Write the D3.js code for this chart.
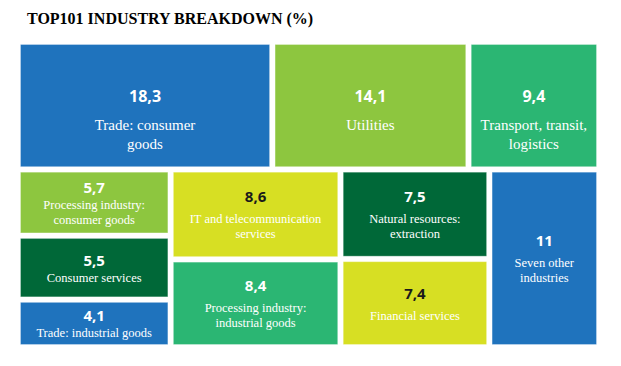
<!DOCTYPE html>
<meta charset="utf-8">
<style>
    body { margin: 0; background: #fff; }
    .value { font-family: "Open Sans", sans-serif; font-weight: bold; text-anchor: middle; }
    .label, .title { font-family: "Liberation Serif", Tinos, "Times New Roman", Times, "DejaVu Serif", serif; }
    .label { fill: #fff; text-anchor: middle; }
    .title { font-weight: bold; font-size: 16px; }
</style>
<body>
<script src="https://d3js.org/d3.v7.min.js"></script>
<script>

    var outerWidth  = 621,
        outerHeight = 366;

    var margin = {top: 44, right: 24, bottom: 21, left: 20};

    var width  = outerWidth - margin.left - margin.right,
        height = outerHeight - margin.top - margin.bottom;

    // data, in reading order: top row, then the four columns below
    var categories = [
        "Trade: consumer|goods", "Utilities", "Transport, transit,|logistics",
        "Processing industry:|consumer goods", "Consumer services", "Trade: industrial goods",
        "IT and telecommunication|services", "Processing industry:|industrial goods",
        "Natural resources:|extraction", "Financial services",
        "Seven other|industries"
    ];
    var values = [18.3, 14.1, 9.4, 5.7, 5.5, 4.1, 8.6, 8.4, 7.5, 7.4, 11];
    var groups = ["row1", "row1", "row1", "col1", "col1", "col1", "col2", "col2", "col3", "col3", "col4"];
    var colors = ["#1f73bd", "#8dc63f", "#2bb673", "#8dc63f", "#006838", "#1f73bd",
                  "#d7df23", "#2bb673", "#006838", "#d7df23", "#1f73bd"];
    var darkValue = ["IT and telecommunication|services", "Financial services"];

    var leaves = categories.map(function (c, i) {
        return {name: c, value: values[i], group: groups[i], color: colors[i]};
    });

    function leavesOf(g) {
        return leaves.filter(function (d) { return d.group === g; });
    }

    var tree = {
        name: "root",
        children: [
            {name: "row1", children: leavesOf("row1")},
            {name: "row2", children: ["col1", "col2", "col3", "col4"].map(function (g) {
                return {name: g, children: leavesOf(g)};
            })}
        ]
    };

    var root = d3.hierarchy(tree).sum(function (d) { return d.children ? 0 : d.value; });

    d3.treemap()
      .size([width, height])
      .paddingInner(4.5)
      .tile(function (node, x0, y0, x1, y1) {
          if (node.depth % 2 === 0) d3.treemapSlice(node, x0, y0, x1, y1);
          else d3.treemapDice(node, x0, y0, x1, y1);
      })(root);

    var svg = d3.select("body")
                .append("svg")
                .attr("width", outerWidth)
                .attr("height", outerHeight);

    svg.append("text")
       .attr("class", "title")
       .attr("x", 27)
       .attr("y", 24)
       .text("TOP101 INDUSTRY BREAKDOWN (%)");

    var g = svg.append("g")
               .attr("transform", "translate(" + margin.left + "," + margin.top + ")");

    var cell = g.selectAll(".cell")
                .data(root.leaves())
                .enter()
                .append("g")
                .attr("class", "cell");

    cell.append("rect")
        .attr("x", function (d) { return d.x0 + 0.5; })
        .attr("y", function (d) { return d.y0 + 0.5; })
        .attr("width", function (d) { return d.x1 - d.x0 - 1; })
        .attr("height", function (d) { return d.y1 - d.y0 - 1; })
        .attr("fill", function (d) { return d.data.color; })
        .attr("stroke", "rgba(255,255,255,0.3)")
        .attr("stroke-width", 1);

    cell.each(function (d) {
        var sel   = d3.select(this),
            cx    = (d.x0 + d.x1) / 2,
            h     = d.y1 - d.y0,
            lines = d.data.name.split("|"),
            top   = d.depth === 2,
            vSize = top ? 16 : 15,
            lSize = top ? 15 : 12.5,
            gap   = top ? 28 : (h < 70 ? 16 : 21),
            lh    = top ? 19 : 15,
            vy;

        if (top) {
            vy = d.y0 + h * 0.47;
        } else {
            vy = (d.y0 + d.y1) / 2 - (gap + (lines.length - 1) * lh) / 2 + 6;
        }

        sel.append("text")
           .attr("class", "value")
           .attr("x", cx)
           .attr("y", vy)
           .style("font-size", vSize + "px")
           .attr("fill", darkValue.indexOf(d.data.name) >= 0 ? "#1a1a1a" : "#fff")
           .text(String(d.data.value).replace(".", ","));

        sel.append("text")
           .attr("class", "label")
           .style("font-size", lSize + "px")
           .selectAll("tspan")
           .data(lines)
           .enter()
           .append("tspan")
           .attr("x", cx)
           .attr("y", function (l, i) { return vy + gap + i * lh; })
           .text(function (l) { return l; });
    });

</script>
</body>
